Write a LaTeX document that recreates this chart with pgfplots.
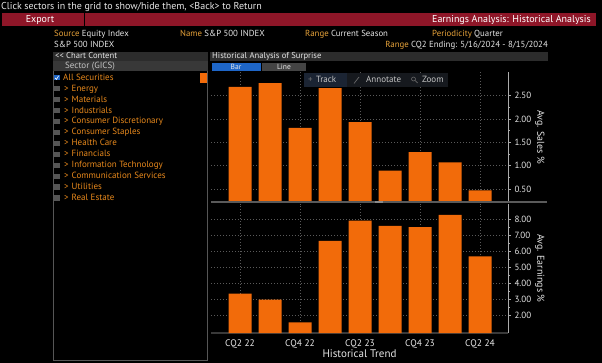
\documentclass[border=0pt]{standalone}
\usepackage{pgfplots}
\pgfplotsset{compat=1.18}
\usepackage{fontspec}
\setmainfont{PT Sans}
\definecolor{bbor}{HTML}{F26B0A}
\definecolor{bblab}{HTML}{E8A33A}
\definecolor{bbitem}{HTML}{E8891C}
\definecolor{bbred}{HTML}{8E1628}
\definecolor{bbgrid}{HTML}{5A5A5A}
\definecolor{bbhead}{HTML}{2C2C2C}
\definecolor{bbsect}{HTML}{383838}
\definecolor{bbtext}{HTML}{E6E6E6}
\definecolor{bbblue}{HTML}{1E66C8}
\definecolor{bbbox}{HTML}{555555}
\definecolor{bbtool}{HTML}{16191E}
\definecolor{bbtrack}{HTML}{1B2433}
\newcommand{\fs}[1]{\fontsize{#1}{#1}\selectfont}
\pgfplotsset{
  bbaxis/.style={
    scale only axis, width=297pt,
    xmin=-0.967, xmax=8.933,
    axis x line*=bottom, axis y line*=right,
    y axis line style={draw=bbtext!75!black, line width=0.8pt},
    xtick={0,2,4,6,8},
    major x tick style={draw=none},
    xmajorgrids, ymajorgrids,
    grid style={draw=bbgrid, line width=0.8pt, dash pattern=on 1pt off 2pt},
    tick align=outside,
    major tick length=3pt, minor tick length=2pt,
    y tick style={draw=bbtext!75!black, line width=0.7pt},
    minor y tick num=1,
    yticklabel style={text=bbtext, font=\fs{9}, /pgf/number format/.cd, fixed, fixed zerofill, precision=2},
    /pgf/number format/assume math mode=true,
    every axis y label/.style={at={(axis description cs:1.107,0.5)}, rotate=-90, anchor=center, text=bbtext, font=\fs{10}},
  }
}
\begin{document}
\begin{tikzpicture}
\fill[black] (0,0) rectangle (602pt,-363pt);
\useasboundingbox (0,0) rectangle (602pt,-363pt);
% top line
\node[anchor=mid west, inner sep=0, text=bbtext, font=\fs{10}] at (1pt,-7.5pt) {Click sectors in the grid to show/hide them, <Back> to Return};
% red bar
\fill[bbred] (2pt,-13.5pt) rectangle (84pt,-26pt);
\fill[bbred] (85pt,-13.5pt) rectangle (596pt,-26pt);
\node[anchor=mid, inner sep=0, text=white, font=\fs{10}] at (40pt,-19.8pt) {Export};
\node[anchor=mid east, inner sep=0, text=white, font=\fs{10}] at (591pt,-19.8pt) {Earnings Analysis: Historical Analysis};
% rows
\begin{scope}[every node/.style={anchor=mid west, inner sep=0, text=bbtext, font=\fs{8.8}}]
\node at (54pt,-34.5pt) {{\color{bblab}Source} Equity Index};
\node at (180pt,-34.5pt) {{\color{bblab}Name} S\&P 500 INDEX};
\node at (305pt,-34.5pt) {{\color{bblab}Range} Current Season};
\node at (432pt,-34.5pt) {{\color{bblab}Periodicity} Quarter};
\node at (54pt,-44.7pt) {S\&P 500 INDEX};
\node[anchor=mid east] at (548pt,-44.7pt) {{\color{bblab}Range} CQ2 Ending: 5/16/2024 - 8/15/2024};
\end{scope}
% left panel
\draw[bbhead!80!white, line width=0.6pt] (53pt,-52pt) rectangle (207.5pt,-360pt);
\fill[bbhead] (53pt,-52pt) rectangle (208pt,-61pt);
\node[anchor=mid west, inner sep=0, text=bbtext, font=\fs{8.6}] at (55pt,-56.5pt) {<{}< Chart Content};
\fill[bbsect] (53pt,-61.5pt) rectangle (207.5pt,-71.5pt);
\node[anchor=mid west, inner sep=0, text=bbtext!85!black, font=\fs{9}] at (65pt,-66.5pt) {Sector (GICS)};
% right header
\fill[bbhead] (210pt,-52pt) rectangle (548pt,-61pt);
\node[anchor=mid west, inner sep=0, text=bbtext, font=\fs{8.6}] at (212pt,-56.5pt) {Historical Analysis of Surprise};
\fill[bbblue] (211.7pt,-62.7pt) rectangle (261pt,-70.7pt);
\fill[bbbox!80!black] (261.7pt,-62.7pt) rectangle (306pt,-70.7pt);
\node[inner sep=0, text=bbtext, font=\fs{7.5}] at (236pt,-66.7pt) {Bar};
\node[inner sep=0, text=bbtext, font=\fs{7.5}] at (284pt,-66.7pt) {Line};
% list
\fill[bbblue] (54pt,-75pt) rectangle (59.5pt,-80.5pt);
\draw[white, line width=0.6pt] (55pt,-77.8pt) -- (56.5pt,-79.4pt) -- (58.6pt,-75.8pt);
\node[anchor=mid west, inner sep=0, text=bbitem, font=\fs{9}] at (63pt,-77.7pt) {All Securities};
\fill[bbor] (200pt,-72.7pt) rectangle (207pt,-83.3pt);
\foreach \n [count=\i] in {Energy, Materials, Industrials, Consumer Discretionary, Consumer Staples, Health Care, Financials, Information Technology, Communication Services, Utilities, Real Estate}{
  \pgfmathsetmacro{\yy}{77.7+10.95*\i}
  \fill[bbbox] (54pt,-\yy pt+2.7pt) rectangle (59.5pt,-\yy pt-2.7pt);
  \node[anchor=mid west, inner sep=0, text=bbitem, font=\fs{9}] at (64pt,-\yy pt) {>};
  \node[anchor=mid west, inner sep=0, text=bbitem, font=\fs{9}] at (71.5pt,-\yy pt) {\n};
}
% top axis: sales surprise
\begin{axis}[bbaxis, at={(211pt,-202pt)}, anchor=south west,
  height=129.7pt, ymin=0.22, ymax=3.0,
  x axis line style={draw=none},
  xticklabels={},
  ytick={0.5,1,1.5,2,2.5},
  ylabel={Avg. Sales \%}]
\addplot[ybar, bar width=23pt, fill=bbor, draw=none] coordinates {
(0,2.69) (1,2.77) (2,1.81) (3,2.66) (4,1.93) (5,0.89) (6,1.29) (7,1.07) (8,0.47)};
\end{axis}
% bottom axis: earnings surprise
\begin{axis}[bbaxis, at={(211pt,-333pt)}, anchor=south west,
  height=129.3pt, ymin=0.87, ymax=9.0,
  x axis line style={draw=bbgrid!120, line width=1.2pt},
  xticklabels={CQ2 22, CQ4 22, CQ2 23, CQ4 23, CQ2 24},
  xticklabel style={text=bbtext, font=\fs{9.5}},
  ytick={2,3,4,5,6,7,8},
  ylabel={Avg. Earnings \%},
  xlabel={Historical Trend},
  every axis x label/.style={at={(axis description cs:0.5,-0.161)}, anchor=center, text=bbtext, font=\fs{11}}]
\addplot[ybar, bar width=23pt, fill=bbor, draw=none] coordinates {
(0,3.35) (1,2.97) (2,1.54) (3,6.66) (4,7.94) (5,7.60) (6,7.52) (7,8.29) (8,5.69)};
\end{axis}
% separator
\draw[bbgrid, line width=1.8pt] (211pt,-202pt) -- (547pt,-202pt);
\fill[bbtext!60!black] (375pt,-201.2pt) rectangle (383pt,-202.8pt);
% toolbar
\fill[bbtool] (304pt,-73pt) rectangle (448pt,-87.5pt);
\fill[bbtrack] (304pt,-73pt) rectangle (347pt,-87.5pt);
\begin{scope}[every node/.style={anchor=mid west, inner sep=0, text=bbtext!85!black, font=\fs{9}}]
\node[text=bbtext!50!black] at (308pt,-80pt) {+};
\node at (316pt,-80pt) {Track};
\node at (366pt,-80pt) {Annotate};
\node at (422pt,-80pt) {Zoom};
\end{scope}
\draw[bbtext!45!black, line width=0.7pt] (354pt,-83.5pt) -- (359pt,-77pt);
\draw[bbtext!45!black, line width=0.6pt] (413.5pt,-79pt) circle (2pt);
\draw[bbtext!45!black, line width=0.7pt] (415pt,-80.5pt) -- (417.5pt,-83pt);
\end{tikzpicture}
\end{document}
